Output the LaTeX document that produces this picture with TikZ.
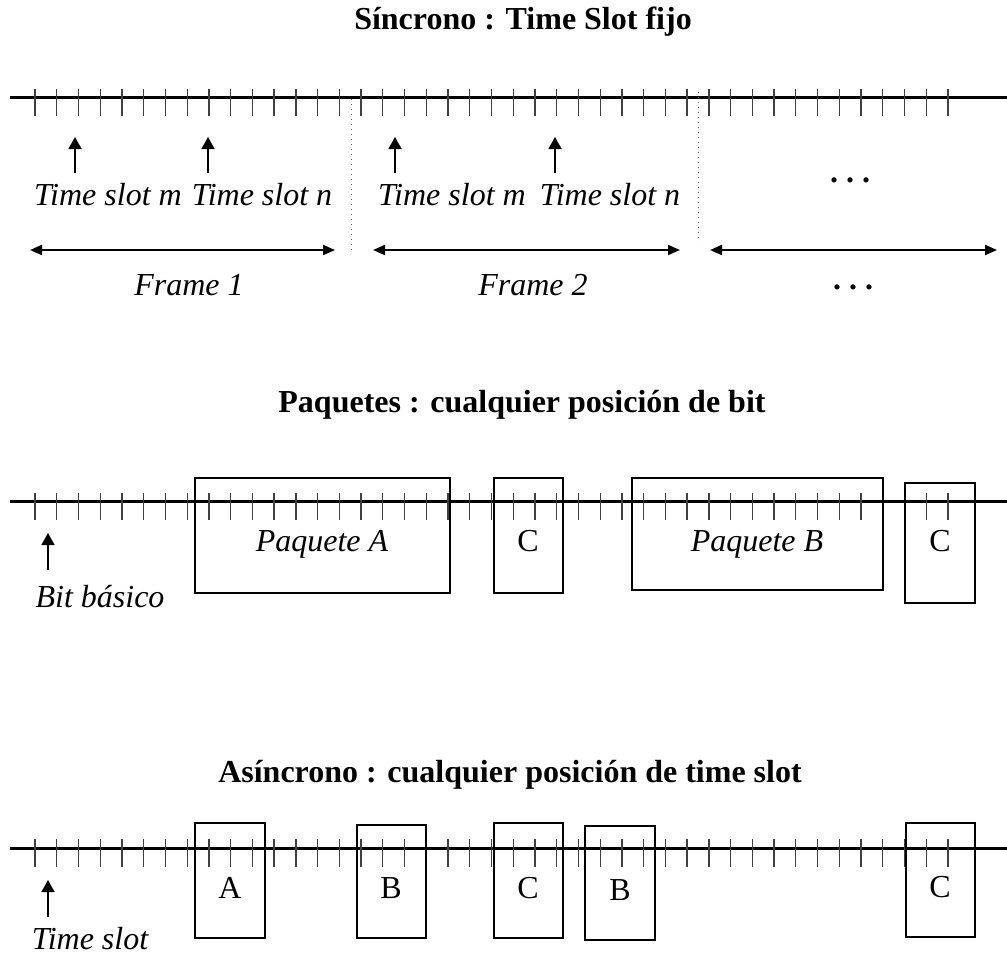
\documentclass[tikz,border=0pt]{standalone}
\usepackage{fontspec}
\setmainfont{Liberation Serif}
\usetikzlibrary{arrows.meta}
\begin{document}
\begin{tikzpicture}[x=0.5pt,y=-0.5pt,
  every node/.style={font=\fontsize{16}{19}\selectfont, inner sep=0pt},
  title/.style={font=\fontsize{16}{19}\selectfont\bfseries},
  lbl/.style={font=\fontsize{16}{19}\selectfont\itshape},
  ellip/.style={font=\fontsize{16}{19}\selectfont\bfseries},
  axis/.style={line width=1.5pt},
  tickmark/.style={line width=0.65pt, black!75},
  pbox/.style={draw, line width=1pt},
  uparrow/.style={line width=0.7pt, -{Triangle[length=6pt,width=6.5pt]}},
  span/.style={line width=1pt, {Triangle[length=6pt,width=5pt]}-{Triangle[length=6pt,width=5pt]}},
  sep/.style={dotted, line width=0.5pt, black!60},
]
\useasboundingbox (0,0) rectangle (1007,954);

% ---------- titles ----------
\node[title] (t1) at (523,22) {Síncrono : Time Slot fijo};
\node[title] (t2) at (522,405) {Paquetes : cualquier posición de bit};
\node[title] (t3) at (510,775) {Asíncrono : cualquier posición de time slot};

% ---------- time axes with ticks ----------
\foreach \yy/\up in {97/8,501/8,848/9}{
  \draw[axis] (10,\yy) -- (1007,\yy);
  \foreach \k in {0,...,42}{
    \draw[tickmark] ({35+21.738*\k},{\yy-\up}) -- ({35+21.738*\k},{\yy+19});
  }
}

% ---------- synchronous: frames ----------
\draw[sep] (351,99) -- (351,250);
\draw[sep] (698,92) -- (698,242);

\node[lbl] (sm1) at (108,195) {Time slot m};
\node[lbl] (sn1) at (262,195) {Time slot n};
\node[lbl] (sm2) at (452,195) {Time slot m};
\node[lbl] (sn2) at (610,195) {Time slot n};
\node[ellip] (dots1) at (850,180) {.\ .\ .};

\coordinate (am1a) at (75,173);  \coordinate (am1b) at (75,137);
\coordinate (an1a) at (208,173); \coordinate (an1b) at (208,137);
\coordinate (am2a) at (395,173); \coordinate (am2b) at (395,137);
\coordinate (an2a) at (555,173); \coordinate (an2b) at (555,137);
\draw[uparrow] (am1a) -- (am1b);
\draw[uparrow] (an1a) -- (an1b);
\draw[uparrow] (am2a) -- (am2b);
\draw[uparrow] (an2a) -- (an2b);

\coordinate (f1a) at (30,250);  \coordinate (f1b) at (335,250);
\coordinate (f2a) at (373,250); \coordinate (f2b) at (680,250);
\coordinate (f3a) at (710,250); \coordinate (f3b) at (997,250);
\draw[span] (f1a) -- (f1b);
\draw[span] (f2a) -- (f2b);
\draw[span] (f3a) -- (f3b);

\node[lbl] (fr1) at (189,285) {Frame 1};
\node[lbl] (fr2) at (533,285) {Frame 2};
\node[ellip] (dots2) at (853,287) {.\ .\ .};

% ---------- packets ----------
\node[pbox, minimum width=127.5pt, minimum height=57.5pt] (pa) at (322.5,535.5) {};
\node[pbox, minimum width=34.5pt, minimum height=57.5pt] (pc1) at (528.5,535.5) {};
\node[pbox, minimum width=125.5pt, minimum height=56pt] (pb) at (757.5,534) {};
\node[pbox, minimum width=35pt, minimum height=60pt] (pc2) at (940,543) {};
\node[lbl] (pat) at (322,544) {Paquete A};
\node (pc1t) at (528,541) {C};
\node[lbl] (pbt) at (757,544) {Paquete B};
\node (pc2t) at (940,541) {C};

\coordinate (bba) at (48,570); \coordinate (bbb) at (48,533);
\draw[uparrow] (bba) -- (bbb);
\node[lbl] (bb) at (100,597) {Bit básico};

% ---------- asynchronous ----------
\node[pbox, minimum width=35pt, minimum height=57.5pt] (aa) at (230,880.5) {};
\node[pbox, minimum width=34.5pt, minimum height=56.5pt] (ab1) at (391.5,881.5) {};
\node[pbox, minimum width=34.5pt, minimum height=57.5pt] (ac1) at (528.5,880.5) {};
\node[pbox, minimum width=35pt, minimum height=57pt] (ab2) at (620,883) {};
\node[pbox, minimum width=34.5pt, minimum height=57pt] (ac2) at (940.5,880) {};
\node (aat) at (230,888) {A};
\node (ab1t) at (391,888) {B};
\node (ac1t) at (528,888) {C};
\node (ab2t) at (620,890) {B};
\node (ac2t) at (940,887) {C};

\coordinate (tsa) at (48,917); \coordinate (tsb) at (48,880);
\draw[uparrow] (tsa) -- (tsb);
\node[lbl] (ts) at (90,939) {Time slot};
\end{tikzpicture}
\end{document}
